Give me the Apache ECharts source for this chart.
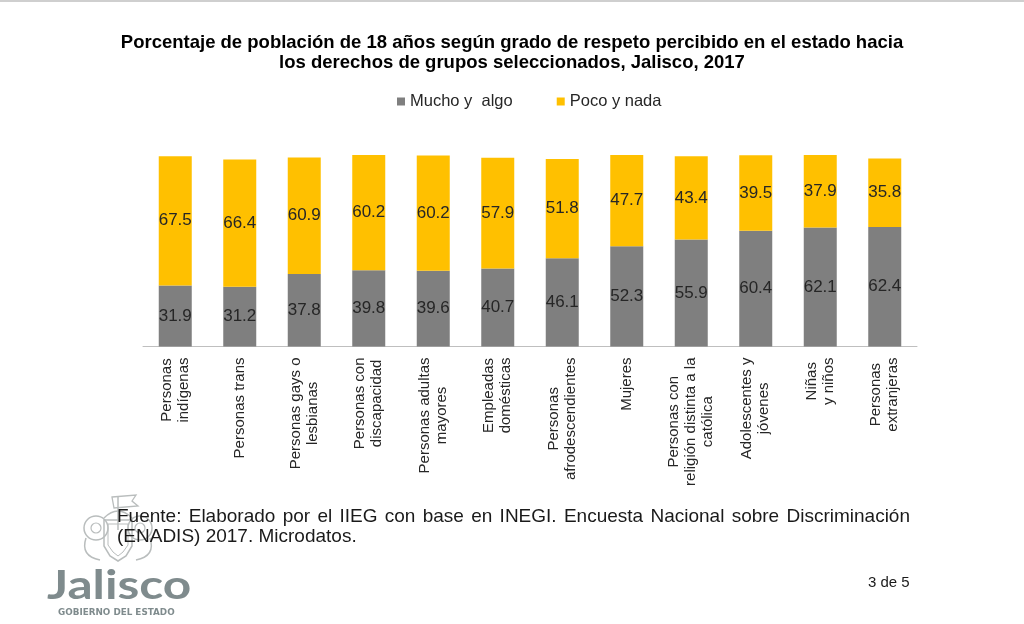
<!DOCTYPE html>
<html>
<head>
<meta charset="utf-8">
<title>Respeto percibido, Jalisco 2017</title>
<script src="https://cdn.jsdelivr.net/npm/echarts@6/dist/echarts.min.js"></script>
<style>
  html, body { margin: 0; padding: 0; background: #fff; }
  #chart { width: 1024px; height: 624px; }
</style>
</head>
<body>
<div id="chart"></div>
<script>
// grupos (con saltos de linea como en el original)
var categories = [
	"Personas\nindígenas",
	"Personas trans",
	"Personas gays o\nlesbianas",
	"Personas con\ndiscapacidad",
	"Personas adultas\nmayores",
	"Empleadas\ndomésticas",
	"Personas\nafrodescendientes",
	"Mujeres",
	"Personas con\nreligión distinta a la\ncatólica",
	"Adolescentes y\njóvenes",
	"Niñas\ny niños",
	"Personas\nextranjeras"
];
var muchoAlgo = [31.9, 31.2, 37.8, 39.8, 39.6, 40.7, 46.1, 52.3, 55.9, 60.4, 62.1, 62.4];
var pocoNada = [67.5, 66.4, 60.9, 60.2, 60.2, 57.9, 51.8, 47.7, 43.4, 39.5, 37.9, 35.8];
var seriesNames = ["Mucho y  algo", "Poco y nada"];

var FONT = "'Liberation Sans', Arial, sans-serif";
var chart = echarts.init(document.getElementById("chart"));

// etiqueta dentro de cada segmento
function segLabel() {
	return {
		show: true,
		position: "inside",
		color: "#262626",
		fontFamily: FONT,
		fontSize: 17,
		formatter: function (p) { return p.value.toFixed(1); }
	};
}

// texto justificado: una palabra por elemento
var measureCtx = document.createElement("canvas").getContext("2d");
function justified(text, x, y, width, font) {
	measureCtx.font = font;
	var words = text.split(" ");
	var total = 0;
	var widths = words.map(function (w) { var m = measureCtx.measureText(w).width; total += m; return m; });
	var gap = (width - total) / (words.length - 1);
	var els = [], cx = x;
	words.forEach(function (w, i) {
		els.push({ type: "text", x: cx, y: y, style: { text: w, font: font, fill: "#1a1a1a" } });
		cx += widths[i] + gap;
	});
	return els;
}

// escudo (trazo claro, aproximado)
var crestColor = "#b9bdbd";
function stroke(w) { return { stroke: crestColor, lineWidth: w, fill: null }; }
var crest = [
	{ type: "line", shape: { x1: 118, y1: 530, x2: 118, y2: 496 }, style: stroke(1.5) },
	{ type: "polygon", shape: { points: [[112, 497], [136, 495], [132, 501], [138, 506], [114, 508]] }, style: stroke(1.3) },
	{ type: "circle", shape: { cx: 96, cy: 528, r: 12 }, style: stroke(1.5) },
	{ type: "circle", shape: { cx: 140, cy: 528, r: 12 }, style: stroke(1.5) },
	{ type: "circle", shape: { cx: 96, cy: 528, r: 5 }, style: stroke(1.2) },
	{ type: "circle", shape: { cx: 140, cy: 528, r: 5 }, style: stroke(1.2) },
	{ type: "polygon", shape: { points: [[104, 520], [132, 520], [132, 546], [126, 556], [118, 561], [110, 556], [104, 546]] }, style: stroke(1.5) },
	{ type: "polygon", shape: { points: [[108, 524], [128, 524], [128, 545], [123, 552], [118, 556], [113, 552], [108, 545]] }, style: stroke(1) },
	{ type: "bezierCurve", shape: { x1: 86, y1: 538, cpx1: 80, cpy1: 556, x2: 100, y2: 560 }, style: stroke(1.5) },
	{ type: "bezierCurve", shape: { x1: 150, y1: 538, cpx1: 156, cpy1: 556, x2: 136, y2: 560 }, style: stroke(1.5) },
	{ type: "bezierCurve", shape: { x1: 104, y1: 518, cpx1: 118, cpy1: 504, x2: 132, y2: 518 }, style: stroke(1.5) }
];

var footFont = "19px " + FONT;
var graphics = [
	{ type: "rect", shape: { x: 0, y: 0, width: 1024, height: 2 }, style: { fill: "#cfcfcf" } }
].concat(crest)
 .concat(justified("Fuente: Elaborado por el IIEG con base en INEGI. Encuesta Nacional sobre Discriminación", 117, 507, 793, footFont))
 .concat([
	{ type: "text", x: 117, y: 527, style: { text: "(ENADIS) 2017. Microdatos.", font: footFont, fill: "#1a1a1a" } },
	{ type: "text", x: 868, y: 575, style: { text: "3 de 5", font: "15px " + FONT, fill: "#1a1a1a" } },
	{
		type: "text", x: 47, y: 566, scaleX: 1.24,
		style: { text: "Jalisco", font: "bold 40px Lato, 'Noto Sans', sans-serif", fill: "#7f8b8d" }
	},
	{
		type: "text", x: 58, y: 609, scaleX: 1.1,
		style: { text: "GOBIERNO DEL ESTADO", font: "bold 8px 'DejaVu Sans', sans-serif", fill: "#7f8b8d" }
	}
]);

chart.setOption({
	animation: false,
	backgroundColor: "#ffffff",
	title: {
		text: "Porcentaje de población de 18 años según grado de respeto percibido en el estado hacia\nlos derechos de grupos seleccionados, Jalisco, 2017",
		left: "center",
		top: 28,
		textStyle: { fontFamily: FONT, fontWeight: "bold", fontSize: 18.5, lineHeight: 20, color: "#000" }
	},
	legend: {
		data: seriesNames,
		top: 88,
		left: 392,
		icon: "rect",
		itemWidth: 8,
		itemHeight: 8,
		itemGap: 44,
		textStyle: { fontFamily: FONT, fontSize: 16.5, color: "#262626" }
	},
	grid: { left: 143, top: 155, width: 774, height: 191.5 },
	xAxis: {
		type: "category",
		data: categories,
		axisLine: { lineStyle: { color: "#bfbfbf", width: 1 } },
		axisTick: { show: false },
		axisLabel: {
			interval: 0,
			rotate: 90,
			margin: 11,
			color: "#262626",
			fontFamily: FONT,
			fontSize: 15,
			lineHeight: 17,
			formatter: function (v) {
				return v.split("\n").map(function (s) { return "{c|" + s + "}"; }).join("\n");
			},
			rich: {
				c: { align: "center", fontFamily: FONT, fontSize: 15, lineHeight: 17, color: "#262626" }
			}
		}
	},
	yAxis: { type: "value", min: 0, max: 100, show: false, splitLine: { show: false } },
	series: [
		{
			name: seriesNames[0], type: "bar", stack: "total", barWidth: 33,
			itemStyle: { color: "#7f7f7f" },
			label: segLabel(),
			data: muchoAlgo
		},
		{
			name: seriesNames[1], type: "bar", stack: "total", barWidth: 33,
			itemStyle: { color: "#ffc000" },
			label: segLabel(),
			data: pocoNada
		}
	],
	graphic: graphics
});
</script>
</body>
</html>
